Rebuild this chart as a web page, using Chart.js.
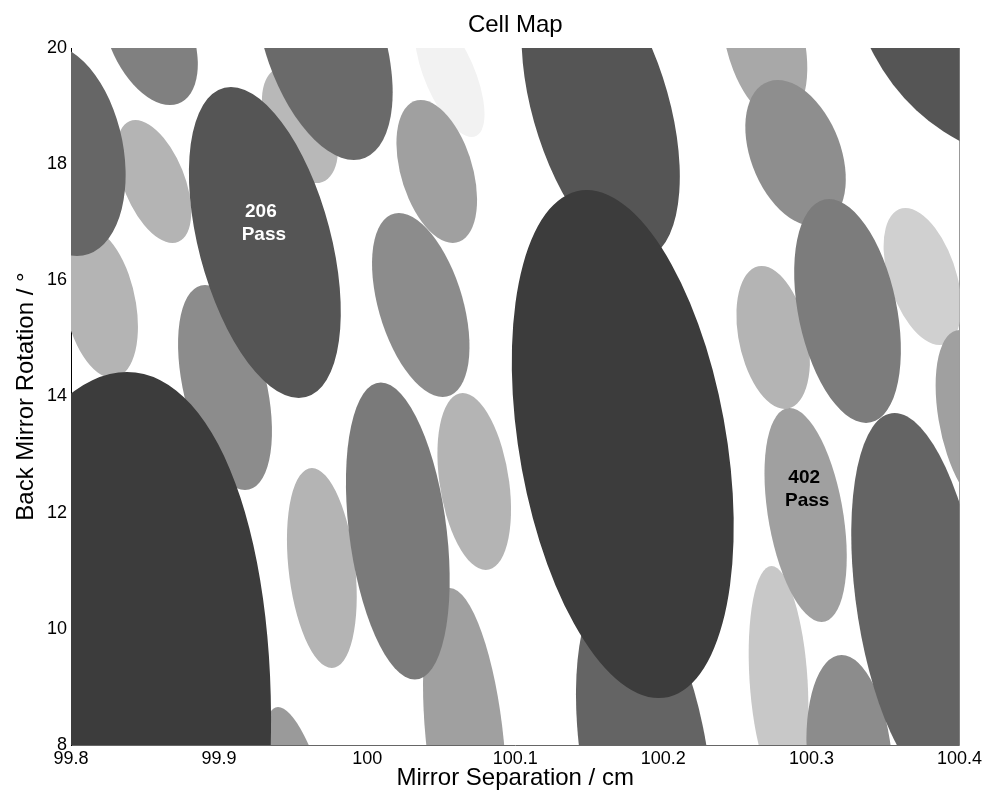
<!DOCTYPE html>
<html>
<head>
<meta charset="utf-8">
<title>Cell Map</title>
<script src="https://cdn.jsdelivr.net/npm/chart.js@4.4.1/dist/chart.umd.min.js"></script>
<style>
  body { margin: 0; background: #fff; }
  #wrap { width: 985px; height: 793px; }
</style>
</head>
<body>
<div id="wrap"><canvas id="cellMap"></canvas></div>
<script>
// cell centres (cm, degrees)
const cellX = [99.7939, 99.8533, 99.8560, 99.8196, 99.9309, 99.9546, 99.9708, 100.0558, 100.0470, 100.0362, 99.9040,
  99.8155, 99.9546, 99.9694, 100.0207, 100.0723, 100.0659, 100.1577, 100.1726, 100.1874, 100.2684, 100.2893,
  100.3244, 100.3750, 100.4102, 100.4338, 100.2742, 100.2961, 100.2778, 100.3258, 100.3721];
const cellY = [18.244, 20.224, 17.702, 15.610, 16.651, 18.674, 20.138, 19.535, 17.874, 15.575, 14.155,
  7.053, 7.053, 11.047, 11.684, 12.536, 8.086, 18.984, 13.182, 7.742, 20.138, 18.192,
  15.472, 16.066, 13.595, 20.999, 15.016, 11.960, 9.119, 7.742, 10.496];
// x shift of the topmost point of each cell (cm)
const cellTilt = [-0.0101, -0.0135, -0.0125, -0.0081, -0.0229, -0.0108, -0.0202, -0.0148, -0.0108, -0.0148, -0.0135,
  0.0223, -0.0148, -0.0067, -0.0115, -0.0078, -0.0101, -0.0243, -0.0243, -0.0169, -0.0101, -0.0121,
  -0.0125, -0.0115, -0.0101, -0.0169, -0.0078, -0.0108, -0.0047, -0.0054, -0.0159];
// half height (degrees) and half width through the centre (cm)
const cellHalfH = [1.825, 1.205, 1.059, 1.291, 2.677, 0.999, 2.066, 1.067, 1.231, 1.584, 1.765,
  7.369, 1.601, 1.722, 2.557, 1.524, 2.617, 2.634, 4.373, 3.099, 1.377, 1.257,
  1.928, 1.179, 1.550, 2.927, 1.231, 1.842, 1.963, 1.808, 3.220];
const cellHalfW = [0.0418, 0.0294, 0.0219, 0.0243, 0.0459, 0.0233, 0.0418, 0.0182, 0.0250, 0.0294, 0.0287,
  0.1175, 0.0182, 0.0226, 0.0331, 0.0236, 0.0263, 0.0476, 0.0709, 0.0432, 0.0270, 0.0317,
  0.0338, 0.0236, 0.0243, 0.1060, 0.0236, 0.0256, 0.0196, 0.0287, 0.0423];
// grey level of each cell (0 = black, 255 = white)
const cellLevel = [102, 128, 180, 180, 85, 184, 106, 242, 160, 140, 140,
  60, 154, 180, 122, 180, 160, 85, 60, 100, 168, 142,
  124, 208, 160, 85, 180, 160, 200, 140, 100];

const labelX = [99.9289, 100.2958];
const labelY = [16.983, 12.407];
const labelText = [["206", "Pass"], ["402", "Pass"]];

const xTickValues = [99.8, 99.9, 100, 100.1, 100.2, 100.3, 100.4];
const xTickLabels = ["99.8", "99.9", "100", "100.1", "100.2", "100.3", "100.4"];
const yTickValues = [8, 10, 12, 14, 16, 18, 20];

const FONT = "'Liberation Sans', Arial, Helvetica, sans-serif";
const labelInk = ["#ffffff", "#000000"];

const cells = cellX.map((x, i) => ({
  x: x, y: cellY[i], tilt: cellTilt[i], hh: cellHalfH[i], hw: cellHalfW[i], level: cellLevel[i]
}));

// draws each cell as a filled ellipse, lighter cells first
const ellipsePlugin = {
  id: "ellipses",
  beforeDatasetsDraw(chart) {
    const { ctx, chartArea, scales } = chart;
    const xs = scales.x, ys = scales.y;
    const pts = chart.data.datasets[0].data.slice().sort((a, b) => b.level - a.level);
    ctx.save();
    ctx.beginPath();
    ctx.rect(chartArea.left, chartArea.top, chartArea.right - chartArea.left, chartArea.bottom - chartArea.top);
    ctx.clip();
    pts.forEach(p => {
      const cx = xs.getPixelForValue(p.x), cy = ys.getPixelForValue(p.y);
      const ux = xs.getPixelForValue(p.x + p.tilt) - cx;
      const uy = ys.getPixelForValue(p.y + p.hh) - cy;
      const vx = xs.getPixelForValue(p.x + p.hw) - cx;
      ctx.beginPath();
      ctx.save();
      ctx.transform(ux, uy, vx, 0, cx, cy);
      ctx.arc(0, 0, 1, 0, Math.PI * 2);
      ctx.restore();
      ctx.fillStyle = "rgb(" + p.level + "," + p.level + "," + p.level + ")";
      ctx.fill();
    });
    ctx.restore();
  },
  afterDatasetsDraw(chart) {
    const { ctx, chartArea, scales } = chart;
    ctx.save();
    ctx.font = "bold 19px " + FONT;
    ctx.textAlign = "center";
    ctx.textBaseline = "middle";
    labelText.forEach((lines, i) => {
      const px = scales.x.getPixelForValue(labelX[i]);
      const py = scales.y.getPixelForValue(labelY[i]);
      ctx.fillStyle = labelInk[i];
      lines.forEach((t, j) => {
        ctx.fillText(t, px + (j ? 2 : -1), py + (j - (lines.length - 1) / 2) * 23);
      });
    });
    // title
    ctx.fillStyle = "#000";
    ctx.font = "24px " + FONT;
    ctx.fillText("Cell Map", (chartArea.left + chartArea.right) / 2, 25);
    ctx.restore();
  }
};

new Chart(document.getElementById("cellMap"), {
  type: "scatter",
  data: {
    datasets: [{
      data: cells,
      pointRadius: 0,
      pointHoverRadius: 0,
    }],
  },
  options: {
    responsive: true,
    maintainAspectRatio: false,
    animation: false,
    events: [],
    layout: { padding: { left: 0, right: 25, top: 48, bottom: 0 } },
    plugins: {
      legend: { display: false },
      title: { display: false },
      tooltip: { enabled: false },
    },
    scales: {
      x: {
        type: "linear",
        position: "bottom",
        min: 99.8,
        max: 100.4,
        z: 1,
        grid: { display: false, drawTicks: false },
        border: { display: true, color: "#666666", width: 1 },
        afterBuildTicks: s => { s.ticks = xTickValues.map(v => ({ value: v })); },
        afterFit: s => { s.height = 48; },
        ticks: {
          color: "#000",
          padding: 3,
          maxRotation: 0,
          autoSkip: false,
          font: { family: FONT, size: 18 },
          callback: (v) => xTickLabels[xTickValues.findIndex(t => Math.abs(t - v) < 1e-6)],
        },
        title: {
          display: true,
          text: "Mirror Separation / cm",
          color: "#000",
          font: { family: FONT, size: 24 },
          padding: { top: 0, bottom: 0 },
        },
      },
      y: {
        type: "linear",
        position: "left",
        min: 8,
        max: 20,
        z: 1,
        grid: { display: false, drawTicks: false },
        border: { display: true, color: "#000000", width: 1 },
        afterBuildTicks: s => { s.ticks = yTickValues.map(v => ({ value: v })); },
        afterFit: s => { s.width = 71; },
        ticks: {
          color: "#000",
          padding: 4,
          font: { family: FONT, size: 18 },
        },
        title: {
          display: true,
          text: "Back Mirror Rotation / °",
          color: "#000",
          font: { family: FONT, size: 24 },
          padding: { top: 12, bottom: 0 },
        },
      },
      y2: {
        type: "linear",
        position: "right",
        min: 8,
        max: 20,
        z: 1,
        grid: { display: false, drawTicks: false },
        ticks: { display: false },
        border: { display: true, color: "#999999", width: 1, dash: [1, 2] },
        afterFit: s => { s.width = 0; },
      },
    },
  },
  plugins: [ellipsePlugin],
});
</script>
</body>
</html>
